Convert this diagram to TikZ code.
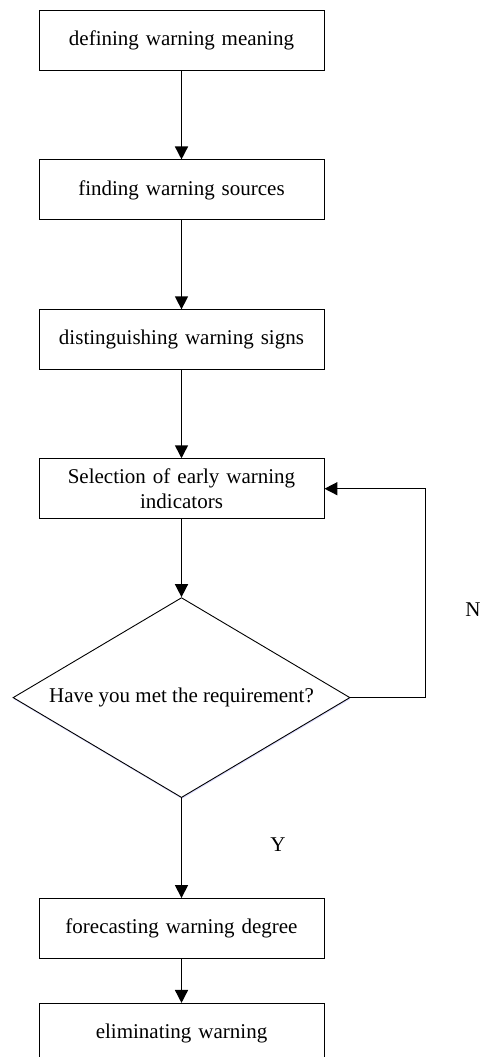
\documentclass[tikz,border=0pt]{standalone}
\usepackage{fontspec}
\setmainfont{Liberation Serif}
\usetikzlibrary{shapes.geometric, arrows.meta, positioning, shadows}

\begin{document}
\begin{tikzpicture}[
    x=1pt, y=1pt,
    font=\fontsize{21}{25}\selectfont,
    stage/.style={rectangle, minimum width=285pt, minimum height=60pt, text width=265pt, align=center, draw=black, line width=0.9pt, inner sep=2pt},
    decision/.style={diamond, aspect=1.685, minimum width=337pt, minimum height=200pt, inner sep=1pt, draw=black, line width=0.9pt, fill=white, drop shadow={shadow xshift=0.4pt, shadow yshift=-1.5pt, fill=blue!40, opacity=0.35}},
    arrow/.style={line width=1.5pt, -{Triangle[length=13pt, width=13pt]}},
    answer/.style={inner sep=0pt}
]
    \useasboundingbox (0,0) rectangle (480,-1057);

    % Steps
    \node[stage] (meaning) at (181.5,-40) {defining warning meaning};
    \node[stage, below=89pt of meaning] (sources) {finding warning sources};
    \node[stage, below=89pt of sources] (signs) {distinguishing warning signs};
    \node[stage, below=88pt of signs] (indicators) {Selection of early warning\\indicators};

    % Check
    \node[decision, below=78pt of indicators] (check) {Have you met the requirement?};

    % Result
    \node[stage, below=100pt of check] (degree) {forecasting warning degree};
    \node[stage, below=44pt of degree] (eliminate) {eliminating warning};

    % Answers
    \node[answer] (no) at (473,-610) {N};
    \node[answer] (yes) at (278,-845) {Y};

    % Connections
    \draw[arrow] (meaning) -- (sources);
    \draw[arrow] (sources) -- (signs);
    \draw[arrow] (signs) -- (indicators);
    \draw[arrow] (indicators) -- (check);
    \draw[arrow] (check.east) -- ++(75,0) |- (indicators.east);
    \draw[arrow] (check) -- (degree);
    \draw[arrow] (degree) -- (eliminate);

\end{tikzpicture}
\end{document}
